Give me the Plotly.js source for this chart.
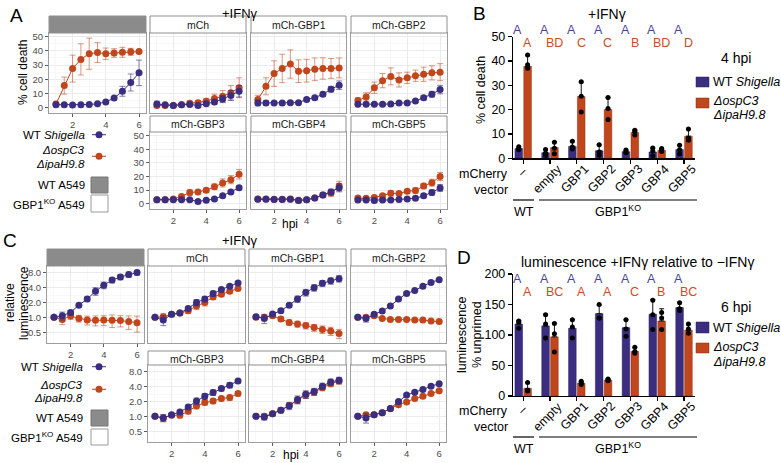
<!DOCTYPE html>
<html><head><meta charset="utf-8">
<script src="https://cdn.plot.ly/plotly-3.0.1.min.js"></script>
<style>html,body{margin:0;padding:0;background:#fff}#chart{width:781px;height:463px}</style>
</head><body><div id="chart"></div>
<script>
// ---------------- DATA ----------------
const hpi = [1, 1.5, 2, 2.5, 3, 3.5, 4, 4.5, 5, 5.5, 6];
const facetLabels = ['', 'mCh', 'mCh-GBP1', 'mCh-GBP2', 'mCh-GBP3', 'mCh-GBP4', 'mCh-GBP5'];

// Panel A: % cell death (+IFNγ); Shig = WT Shigella, Mut = ΔospC3 ΔipaH9.8
const deathShigWT   = [2, 2, 1.8, 2, 2.2, 2.7, 4, 6.8, 11.5, 17.7, 24.5];
const deathShigWTsd = [0.5, 0.5, 0.4, 0.5, 0.5, 0.5, 0.6, 1, 3.5, 6, 9];
const deathMutWT    = [2.5, 15.5, 27.5, 34, 38, 38.8, 38, 38.5, 39, 39.3, 39.5];
const deathMutWTsd  = [1.5, 6, 9.5, 11, 11, 7, 4, 3, 3.5, 2.5, 1.2];
const deathShigMCh   = [2.5, 2, 1.5, 2, 2.2, 1.5, 2.8, 4, 6, 8.5, 11.5];
const deathShigMChsd = [2, 1, 0.8, 0.8, 0.8, 0.8, 1, 1.5, 2.5, 3.5, 4];
const deathMutMCh    = [1.5, 1.5, 1.5, 2, 3, 3.5, 4.5, 6.5, 8, 10.5, 14];
const deathMutMChsd  = [1, 1, 1, 1, 1.5, 1.5, 2, 3, 4, 5, 7];
const deathShigG1   = [3.3, 3.3, 3.3, 3.3, 3.5, 3.5, 5.7, 7, 9.4, 13, 15.8];
const deathShigG1sd = [2, 1.5, 1, 1, 1, 0.8, 1, 1.2, 1.5, 2, 3];
const deathMutG1    = [5.7, 15, 24, 27.6, 30.7, 25.7, 26, 27, 27.6, 27.6, 28];
const deathMutG1sd  = [3, 6, 9, 10, 10, 8, 8, 8, 7.5, 7, 7];
const deathShigG2   = [2.4, 2.4, 2.4, 2.4, 2.5, 3.2, 3.3, 4.7, 7, 9.4, 12.7];
const deathShigG2sd = [1, 1, 0.8, 0.8, 0.8, 0.8, 0.8, 1, 1.5, 2, 3];
const deathMutG2    = [5, 7.5, 14, 19, 22, 19.5, 21, 22.5, 23.5, 24.5, 25];
const deathMutG2sd  = [2, 3, 4, 5, 6, 5, 4, 4, 5, 5, 6];
const deathShigG3   = [3, 3, 3, 3, 3, 1.7, 2.6, 3.5, 5.9, 8.7, 11.8];
const deathShigG3sd = [0.8, 0.8, 0.8, 0.8, 0.8, 0.6, 0.8, 0.8, 1, 1, 1.5];
const deathMutG3    = [3, 3, 3.5, 5.4, 8.3, 8.7, 10, 12.5, 15.3, 17.7, 21.7];
const deathMutG3sd  = [1, 1, 1, 1.5, 2, 1.5, 1.5, 2, 3, 3, 3.5];
const deathShigG4   = [3.3, 3.3, 3.2, 3.2, 3.3, 2.4, 3, 4.2, 6.4, 8.7, 11.8];
const deathShigG4sd = [1, 1, 1, 1, 1, 1, 1, 1, 1.5, 2, 3];
const deathMutG4    = [3.5, 3.5, 3.3, 3.3, 3.5, 2.6, 3, 4.3, 6.5, 8, 13];
const deathMutG4sd  = [1, 1, 1, 1, 1, 1, 1, 1, 1.5, 2.5, 3.5];
const deathShigG5   = [2.8, 2.8, 2.5, 2.8, 2.8, 3.2, 3.5, 4, 5.9, 8.3, 11.6];
const deathShigG5sd = [1, 1, 1.5, 1, 1, 0.8, 0.8, 1, 1.5, 2, 2.5];
const deathMutG5    = [4.2, 4, 4.7, 5.9, 7.8, 7.5, 9.2, 9.7, 13, 15.5, 20];
const deathMutG5sd  = [1.5, 1.5, 1.5, 1.5, 2, 1.5, 1.5, 2, 2, 2.5, 3];

// Panel C: relative luminescence (+IFNγ)
const lumShigWT   = [1.0, 1.08, 1.26, 1.77, 2.35, 3.4, 4.5, 5.7, 6.6, 7.4, 8.1];
const lumShigWTsd = [0.05, 0.2, 0.12, 0.15, 0.25, 0.6, 0.7, 0.7, 0.8, 0.9, 0.9];
const lumMutWT    = [1.0, 0.91, 1.06, 0.95, 0.88, 0.87, 0.88, 0.87, 0.86, 0.82, 0.78];
const lumMutWTsd  = [0.03, 0.2, 0.15, 0.15, 0.18, 0.2, 0.2, 0.25, 0.22, 0.25, 0.28];
const lumShigMCh   = [1.0, 0.88, 1.15, 1.22, 1.52, 2.0, 2.35, 3.05, 3.67, 4.3, 5.0];
const lumShigMChsd = [0.03, 0.2, 0.08, 0.1, 0.15, 0.3, 0.3, 0.35, 0.3, 0.3, 0.35];
const lumMutMCh    = [1.0, 1.03, 1.15, 1.22, 1.36, 1.7, 2.0, 2.6, 2.95, 3.4, 3.85];
const lumMutMChsd  = [0.03, 0.15, 0.08, 0.1, 0.15, 0.25, 0.3, 0.3, 0.3, 0.3, 0.3];
const lumShigG1   = [1.03, 0.95, 1.17, 1.36, 1.77, 2.35, 3.2, 4.0, 4.9, 5.5, 6.1];
const lumShigG1sd = [0.03, 0.2, 0.1, 0.1, 0.15, 0.35, 0.5, 0.6, 0.7, 0.8, 0.9];
const lumMutG1    = [1.0, 1.0, 1.08, 0.93, 0.79, 0.73, 0.68, 0.62, 0.57, 0.53, 0.47];
const lumMutG1sd  = [0.03, 0.1, 0.1, 0.1, 0.1, 0.1, 0.1, 0.1, 0.1, 0.1, 0.1];
const lumShigG2   = [1.0, 0.95, 1.15, 1.35, 1.7, 2.35, 3.05, 3.5, 4.3, 5.1, 5.8];
const lumShigG2sd = [0.03, 0.15, 0.08, 0.08, 0.1, 0.1, 0.15, 0.15, 0.15, 0.2, 0.2];
const lumMutG2    = [1.0, 1.0, 1.08, 0.95, 0.91, 0.91, 0.91, 0.88, 0.88, 0.84, 0.82];
const lumMutG2sd  = [0.03, 0.08, 0.08, 0.06, 0.06, 0.06, 0.06, 0.05, 0.05, 0.05, 0.05];
const lumShigG3   = [1.0, 0.93, 1.08, 1.22, 1.55, 2.05, 2.55, 3.05, 3.66, 4.3, 5.2];
const lumShigG3sd = [0.03, 0.15, 0.08, 0.12, 0.15, 0.3, 0.35, 0.4, 0.4, 0.5, 0.5];
const lumMutG3    = [1.0, 0.93, 1.05, 1.05, 1.27, 1.62, 1.9, 2.05, 2.3, 2.4, 2.9];
const lumMutG3sd  = [0.03, 0.15, 0.08, 0.12, 0.15, 0.2, 0.2, 0.25, 0.25, 0.3, 0.3];
const lumShigG4   = [1.0, 0.97, 1.13, 1.33, 1.62, 2.2, 2.8, 3.2, 4.1, 5.0, 5.4];
const lumShigG4sd = [0.03, 0.12, 0.08, 0.15, 0.25, 0.4, 0.5, 0.5, 0.6, 0.7, 0.8];
const lumMutG4    = [1.0, 1.0, 1.13, 1.33, 1.68, 2.1, 2.7, 3.1, 3.8, 4.6, 5.2];
const lumMutG4sd  = [0.03, 0.15, 0.08, 0.12, 0.2, 0.3, 0.4, 0.45, 0.5, 0.6, 0.7];
const lumShigG5   = [1.0, 0.93, 1.08, 1.19, 1.45, 2.0, 2.7, 3.1, 3.5, 4.1, 4.6];
const lumShigG5sd = [0.03, 0.2, 0.08, 0.08, 0.1, 0.1, 0.12, 0.12, 0.15, 0.15, 0.2];
const lumMutG5    = [1.0, 1.08, 1.08, 1.19, 1.43, 1.73, 1.96, 2.3, 2.55, 2.9, 3.3];
const lumMutG5sd  = [0.03, 0.1, 0.08, 0.08, 0.1, 0.1, 0.1, 0.1, 0.12, 0.12, 0.15];

// Panels B and D: groups (mCherry vector)
const groups = ['–', 'empty', 'GBP1', 'GBP2', 'GBP3', 'GBP4', 'GBP5'];
// Panel B: % cell death at 4 hpi
const deathBarShig   = [4.0, 2.3, 4.9, 3.1, 2.7, 2.6, 3.6];
const deathBarShigSd = [0.6, 1.3, 2.2, 2.4, 0.6, 1.6, 1.9];
const deathBarMut    = [37.8, 4.4, 25.4, 20.1, 10.6, 3.3, 9.1];
const deathBarMutSd  = [4.6, 2.4, 6.0, 4.8, 1.1, 0.6, 2.9];
const deathDotsShig  = [[4.7, 3.8, 3.5], [3.6, 2.1, 1.1], [7.0, 4.6, 3.8], [5.6, 2.6, 1.3], [3.4, 2.6, 2.3], [4.2, 3.0, 1.0], [5.4, 3.5, 1.8]];
const deathDotsMut   = [[42.5, 38.5, 37.0], [6.6, 4.1, 1.9], [31.5, 25.5, 19.0], [25.0, 20.5, 16.0], [11.5, 11.0, 9.6], [4.0, 3.4, 2.8], [12.0, 8.2, 7.4]];
const lettersB_Shig  = ['A', 'A', 'A', 'A', 'A', 'A', 'A'];
const lettersB_Mut   = ['A', 'BD', 'C', 'C', 'B', 'BD', 'D'];

// Panel D: luminescence +IFNγ relative to −IFNγ (% unprimed) at 6 hpi
const lumBarShig   = [118, 115, 111, 135, 112, 134, 145];
const lumBarShigSd = [6, 19, 14, 14, 13, 24, 8];
const lumBarMut    = [12.5, 97, 21, 26, 73, 123, 108];
const lumBarMutSd  = [9, 23, 3, 2, 7, 20, 10];
const lumDotsShig  = [[123, 121, 111], [133, 118, 95], [125, 113, 95], [150, 128, 128], [125, 110, 98], [157, 133, 109], [153, 143, 140]];
const lumDotsMut   = [[22, 9, 8], [119, 102, 72], [24, 21, 19], [28, 26, 25], [80, 73, 70], [137, 128, 109], [118, 110, 103]];
const lettersD_Shig = ['A', 'A', 'A', 'A', 'A', 'A', 'A'];
const lettersD_Mut  = ['A', 'BC', 'A', 'A', 'C', 'B', 'BC'];

// ---------------- BUILD ----------------
const W = 781, H = 463;
const BLUE = '#3b2d7f', ORANGE = '#c1461c';
const BLUE_E = 'rgba(59,45,127,0.6)', ORANGE_E = 'rgba(193,70,28,0.55)';
const FONT = 'Liberation Sans, Arial, Helvetica, sans-serif';
const fx = p => p / W;
const fy = p => 1 - p / H;

const measureCtx = document.createElement('canvas').getContext('2d');
function textWidth(s, size) {
  measureCtx.font = size + 'px "Liberation Sans", Arial, sans-serif';
  return measureCtx.measureText(s).width;
}

const traces = [], shapes = [], annotations = [];
const layout = {
  width: W, height: H, margin: {l: 0, r: 0, t: 0, b: 0, pad: 0}, showlegend: false,
  paper_bgcolor: '#ffffff', plot_bgcolor: '#ffffff',
  font: {family: FONT, color: '#000'},
  barmode: 'group', bargap: 0.34, bargroupgap: 0.14,
  shapes, annotations
};
let axN = 0;
function newAxes() {
  axN++;
  return axN === 1 ? ['x', 'y', 'xaxis', 'yaxis'] : ['x' + axN, 'y' + axN, 'xaxis' + axN, 'yaxis' + axN];
}
function txt(text, x, y, o) {
  annotations.push(Object.assign({text, x: fx(x), y: fy(y), xref: 'paper', yref: 'paper', showarrow: false,
    xanchor: 'center', yanchor: 'middle', font: {size: 12, color: '#000', family: FONT}}, o || {}));
}

function facetGrid(cols, rows, shigList, shigSdList, mutList, mutSdList, yopts) {
  for (let idx = 0; idx < 7; idx++) {
    const pos = idx === 0 ? [0, 0] : (idx <= 3 ? [0, idx] : [1, idx - 3]);
    const r = rows[pos[0]], c = cols[pos[1]];
    const [xr, yr, xk, yk] = newAxes();
    const showY = idx === 0 || idx === 4;
    const showX = idx === 0 || idx >= 4;
    layout[xk] = {
      domain: [fx(c[0]), fx(c[1])], anchor: yr, range: [0.58, 6.42],
      tickmode: 'array', tickvals: [2, 4, 6], showticklabels: showX, ticks: showX ? 'outside' : '',
      ticklen: 3, tickcolor: '#333', tickwidth: 0.8, tickfont: {size: 9.5, color: '#4d4d4d', family: FONT},
      showgrid: true, gridcolor: '#ebebeb', gridwidth: 1,
      minor: {tickmode: 'array', tickvals: [1, 3, 5], showgrid: true, gridcolor: '#f3f3f3', gridwidth: 0.6, ticks: ''},
      showline: true, mirror: true, linecolor: '#9d9d9d', linewidth: 1, zeroline: false, fixedrange: true
    };
    layout[yk] = Object.assign({
      domain: [fy(r.plot[1]), fy(r.plot[0])], anchor: xr,
      showticklabels: showY, ticks: showY ? 'outside' : '', ticklen: 3, tickcolor: '#333', tickwidth: 0.8,
      tickfont: {size: 9.5, color: '#4d4d4d', family: FONT},
      showgrid: true, gridcolor: '#ebebeb', gridwidth: 1,
      showline: true, mirror: true, linecolor: '#9d9d9d', linewidth: 1, zeroline: false, fixedrange: true
    }, yopts);
    shapes.push({type: 'rect', xref: 'paper', yref: 'paper', x0: fx(c[0]), x1: fx(c[1]),
      y0: fy(r.strip[1]), y1: fy(r.strip[0]), fillcolor: idx === 0 ? '#8b8b8b' : '#ffffff',
      line: {color: '#8f8f8f', width: 1}});
    if (facetLabels[idx]) txt(facetLabels[idx], (c[0] + c[1]) / 2, (r.strip[0] + r.strip[1]) / 2 + 0.5,
      {font: {size: 10.5, color: '#1a1a1a', family: FONT}});
    traces.push({type: 'scatter', mode: 'lines+markers', x: hpi, y: mutList[idx], xaxis: xr, yaxis: yr,
      line: {color: ORANGE, width: 1}, marker: {color: ORANGE, size: 7},
      error_y: {type: 'data', array: mutSdList[idx], color: ORANGE_E, thickness: 1, width: 3}, cliponaxis: false});
    traces.push({type: 'scatter', mode: 'lines+markers', x: hpi, y: shigList[idx], xaxis: xr, yaxis: yr,
      line: {color: BLUE, width: 1}, marker: {color: BLUE, size: 7},
      error_y: {type: 'data', array: shigSdList[idx], color: BLUE_E, thickness: 1, width: 3}, cliponaxis: false});
  }
}

// Panel A
facetGrid(
  [[49, 146], [150, 246], [251, 346], [351, 447]],
  [{strip: [16, 33], plot: [33, 113]}, {strip: [116, 132], plot: [132, 209]}],
  [deathShigWT, deathShigMCh, deathShigG1, deathShigG2, deathShigG3, deathShigG4, deathShigG5],
  [deathShigWTsd, deathShigMChsd, deathShigG1sd, deathShigG2sd, deathShigG3sd, deathShigG4sd, deathShigG5sd],
  [deathMutWT, deathMutMCh, deathMutG1, deathMutG2, deathMutG3, deathMutG4, deathMutG5],
  [deathMutWTsd, deathMutMChsd, deathMutG1sd, deathMutG2sd, deathMutG3sd, deathMutG4sd, deathMutG5sd],
  {range: [-3.8, 52.6], tickmode: 'array', tickvals: [0, 10, 20, 30, 40, 50],
   minor: {tickmode: 'array', tickvals: [5, 15, 25, 35, 45], showgrid: true, gridcolor: '#f3f3f3', gridwidth: 0.6, ticks: ''}}
);
// Panel C
facetGrid(
  [[47, 144], [148, 245], [249, 346], [351, 446]],
  [{strip: [249, 266], plot: [266, 343]}, {strip: [351, 365], plot: [365, 442]}],
  [lumShigWT, lumShigMCh, lumShigG1, lumShigG2, lumShigG3, lumShigG4, lumShigG5],
  [lumShigWTsd, lumShigMChsd, lumShigG1sd, lumShigG2sd, lumShigG3sd, lumShigG4sd, lumShigG5sd],
  [lumMutWT, lumMutMCh, lumMutG1, lumMutG2, lumMutG3, lumMutG4, lumMutG5],
  [lumMutWTsd, lumMutMChsd, lumMutG1sd, lumMutG2sd, lumMutG3sd, lumMutG4sd, lumMutG5sd],
  {type: 'log', range: [-0.52, 1.042], tickmode: 'array', tickvals: [0.5, 1, 2, 4, 8],
   ticktext: ['0.5', '1.0', '2.0', '4.0', '8.0'],
   minor: {tickmode: 'array', tickvals: [0.7071, 1.4142, 2.8284, 5.6569], showgrid: true, gridcolor: '#f3f3f3', gridwidth: 0.6, ticks: ''}}
);

// Bar panels
function barPanel(top, bottom, yRange, yDtick, shigM, shigSd, mutM, mutSd, dotsShig, dotsMut, letShig, letMut, letY) {
  const [xr, yr, xk, yk] = newAxes();
  const xRange = [-0.38, 6.41];
  const xPx = [513, 695];
  layout[xk] = {domain: [fx(xPx[0]), fx(xPx[1])], anchor: yr, type: 'category', categoryarray: groups, range: xRange,
    showline: true, linecolor: '#000', linewidth: 1.2, ticks: 'outside', ticklen: 4, tickwidth: 1.1, tickcolor: '#000',
    showticklabels: false, showgrid: false, zeroline: false, fixedrange: true};
  layout[yk] = {domain: [fy(bottom), fy(top)], anchor: xr, range: yRange, dtick: yDtick, tick0: 0,
    showline: true, linecolor: '#000', linewidth: 1.2, ticks: 'outside', ticklen: 4, tickwidth: 1.1, tickcolor: '#000',
    tickfont: {size: 12.5, color: '#000', family: FONT}, showgrid: false, zeroline: false, fixedrange: true};
  const zeros = groups.map(() => 0);
  traces.push({type: 'bar', x: groups, y: shigM, xaxis: xr, yaxis: yr, offsetgroup: 's', marker: {color: BLUE, line: {color: '#2a2060', width: 0.5}},
    error_y: {type: 'data', symmetric: false, array: shigSd, arrayminus: zeros, color: '#111', thickness: 1, width: 2.5}});
  traces.push({type: 'bar', x: groups, y: mutM, xaxis: xr, yaxis: yr, offsetgroup: 'm', marker: {color: ORANGE, line: {color: '#8a2f10', width: 0.5}},
    error_y: {type: 'data', symmetric: false, array: mutSd, arrayminus: zeros, color: '#111', thickness: 1, width: 2.5}});
  // overlay axes to align replicate dots with the grouped bars
  [[dotsShig, 0.165], [dotsMut, -0.165]].forEach(([dots, shift]) => {
    const [oxr, , oxk] = newAxes();
    layout[oxk] = {domain: layout[xk].domain, anchor: yr, overlaying: xr, type: 'category', categoryarray: groups,
      range: [xRange[0] + shift, xRange[1] + shift], visible: false, fixedrange: true};
    const xs = [], ys = [];
    dots.forEach((rep, i) => rep.forEach(v => { xs.push(groups[i]); ys.push(v); }));
    traces.push({type: 'scatter', mode: 'markers', x: xs, y: ys, xaxis: oxr, yaxis: yr,
      marker: {color: '#000', size: 5}, cliponaxis: false});
  });
  // rotated category labels (ggplot-style: top-right corner near the tick), placed by their centre
  const pxPerCat = (xPx[1] - xPx[0]) / (xRange[1] - xRange[0]);
  const LS = 12.5;
  for (let i = 0; i < groups.length; i++) {
    let dx, dy;
    if (i === 0) { dx = -1; dy = 14; }
    else {
      const s = (textWidth(groups[i], LS) + 0.8 * LS) * Math.SQRT1_2;
      dx = 13 - s / 2; dy = 5 + s / 2;
    }
    annotations.push({text: groups[i], xref: xr, yref: 'paper', x: i + dx / pxPerCat, y: fy(bottom + dy),
      showarrow: false, textangle: -45, xanchor: 'center', yanchor: 'middle', font: {size: LS, color: '#000', family: FONT}});
  }
  // significance letters
  for (let i = 0; i < groups.length; i++) {
    annotations.push({text: letShig[i], xref: xr, yref: 'paper', x: i - 0.2, y: fy(letY[0]), showarrow: false,
      xanchor: 'center', yanchor: 'middle', font: {size: 12.5, color: '#4a3f9a', family: FONT}});
    annotations.push({text: letMut[i], xref: xr, yref: 'paper', x: i + 0.16, y: fy(letY[1]), showarrow: false,
      xanchor: 'center', yanchor: 'middle', font: {size: 12.5, color: '#cf4a1c', family: FONT}});
  }
}

barPanel(36.7, 158.3, [0, 50], 10, deathBarShig, deathBarShigSd, deathBarMut, deathBarMutSd,
  deathDotsShig, deathDotsMut, lettersB_Shig, lettersB_Mut, [30, 43]);
barPanel(274, 396, [0, 200], 50, lumBarShig, lumBarShigSd, lumBarMut, lumBarMutSd,
  lumDotsShig, lumDotsMut, lettersD_Shig, lettersD_Mut, [278.5, 291.5]);

// ---------------- TEXT / DECORATION ----------------
// panel letters
txt('A', 16, 16, {font: {size: 19, family: FONT}});
txt('C', 10, 240, {font: {size: 19, family: FONT}});
txt('B', 479, 14, {font: {size: 19, family: FONT}});
txt('D', 464, 257, {font: {size: 19, family: FONT}});
// titles
txt('+IFNγ', 240, 13, {font: {size: 13, family: FONT}});
txt('+IFNγ', 240, 240, {font: {size: 13, family: FONT}});
txt('+IFNγ', 607, 14, {font: {size: 14, family: FONT}});
txt('luminescence +IFNγ relative to −IFNγ', 637, 262, {font: {size: 14, family: FONT}});
txt('hpi', 290, 224, {font: {size: 12, family: FONT}});
txt('hpi', 291, 455, {font: {size: 12, family: FONT}});
// y axis titles
txt('% cell death', 23, 73, {textangle: -90, font: {size: 12, family: FONT}});
txt('relative', 10, 303, {textangle: -90, font: {size: 12, family: FONT}});
txt('luminescence', 24, 303, {textangle: -90, font: {size: 12, family: FONT}});
txt('% cell death', 481, 90, {textangle: -90, font: {size: 12.5, family: FONT}});
txt('luminescence', 462, 335, {textangle: -90, font: {size: 12.5, family: FONT}});
txt('% unprimed', 477, 335, {textangle: -90, font: {size: 12.5, family: FONT}});

// facet legends (A and C)
function facetLegend(yShig, yMut1, yMut2, yMutMarker, boxWT, boxKO, textR) {
  const r = {xanchor: 'right', font: {size: 11.5, family: FONT}};
  txt('WT <i>Shigella</i>', textR, yShig, r);
  txt('<i>ΔospC3</i>', textR, yMut1, r);
  txt('<i>ΔipaH9.8</i>', textR, yMut2, r);
  [[yShig, BLUE], [yMutMarker, ORANGE]].forEach(([y, col]) => {
    shapes.push({type: 'line', xref: 'paper', yref: 'paper', x0: fx(92), x1: fx(106), y0: fy(y), y1: fy(y), line: {color: col, width: 1}});
    shapes.push({type: 'circle', xref: 'paper', yref: 'paper', x0: fx(95.5), x1: fx(102.5), y0: fy(y + 3.5), y1: fy(y - 3.5),
      fillcolor: col, line: {color: col, width: 0}});
  });
  shapes.push({type: 'rect', xref: 'paper', yref: 'paper', x0: fx(91), x1: fx(108), y0: fy(boxWT[1]), y1: fy(boxWT[0]),
    fillcolor: '#8b8b8b', line: {color: '#777', width: 1}});
  shapes.push({type: 'rect', xref: 'paper', yref: 'paper', x0: fx(91), x1: fx(108), y0: fy(boxKO[1]), y1: fy(boxKO[0]),
    fillcolor: '#ffffff', line: {color: '#999', width: 1}});
  txt('WT A549', textR, (boxWT[0] + boxWT[1]) / 2, r);
  txt('GBP1<sup>KO</sup> A549', textR, (boxKO[0] + boxKO[1]) / 2, r);
}
facetLegend(134.7, 150, 164, 156.3, [177, 193], [195, 212], 87);
facetLegend(366.7, 384.5, 398, 389.3, [410, 426], [429, 445], 85);

// bar legends (B and D)
function barLegend(title, titleY, yBlue, yOrange1, yOrange2, boxBlue, boxOrange) {
  txt(title, 736, titleY, {font: {size: 14, family: FONT}});
  shapes.push({type: 'rect', xref: 'paper', yref: 'paper', x0: fx(696), x1: fx(709), y0: fy(boxBlue[1]), y1: fy(boxBlue[0]),
    fillcolor: BLUE, line: {color: '#2a2060', width: 0.5}});
  shapes.push({type: 'rect', xref: 'paper', yref: 'paper', x0: fx(696), x1: fx(709), y0: fy(boxOrange[1]), y1: fy(boxOrange[0]),
    fillcolor: ORANGE, line: {color: '#8a2f10', width: 0.5}});
  const l = {xanchor: 'left', font: {size: 12.5, family: FONT}};
  txt('WT <i>Shigella</i>', 710.5, yBlue, l);
  txt('<i>ΔospC3</i>', 710.5, yOrange1, l);
  txt('<i>ΔipaH9.8</i>', 710.5, yOrange2, l);
}
barLegend('4 hpi', 58, 82, 100.5, 115, [77, 87], [98, 108]);
barLegend('6 hpi', 307, 327.5, 347, 362, [322, 333], [343, 353]);

// group labels under bars
function groupLabels(yM, yV, yLine, yText) {
  txt('mCherry', 510, yM, {xanchor: 'right', font: {size: 12.5, family: FONT}});
  txt('vector', 510, yV, {xanchor: 'right', font: {size: 12.5, family: FONT}});
  shapes.push({type: 'line', xref: 'paper', yref: 'paper', x0: fx(513), x1: fx(534), y0: fy(yLine), y1: fy(yLine), line: {color: '#000', width: 1.2}});
  shapes.push({type: 'line', xref: 'paper', yref: 'paper', x0: fx(539), x1: fx(697), y0: fy(yLine), y1: fy(yLine), line: {color: '#000', width: 1.2}});
  txt('WT', 523.5, yText, {font: {size: 12.5, family: FONT}});
  txt('GBP1<sup>KO</sup>', 618, yText - 1, {font: {size: 12.5, family: FONT}});
}
groupLabels(174, 189.5, 200, 212);
groupLabels(411, 427, 437, 449);

Plotly.newPlot('chart', traces, layout, {staticPlot: true, displayModeBar: false});
</script></body></html>
